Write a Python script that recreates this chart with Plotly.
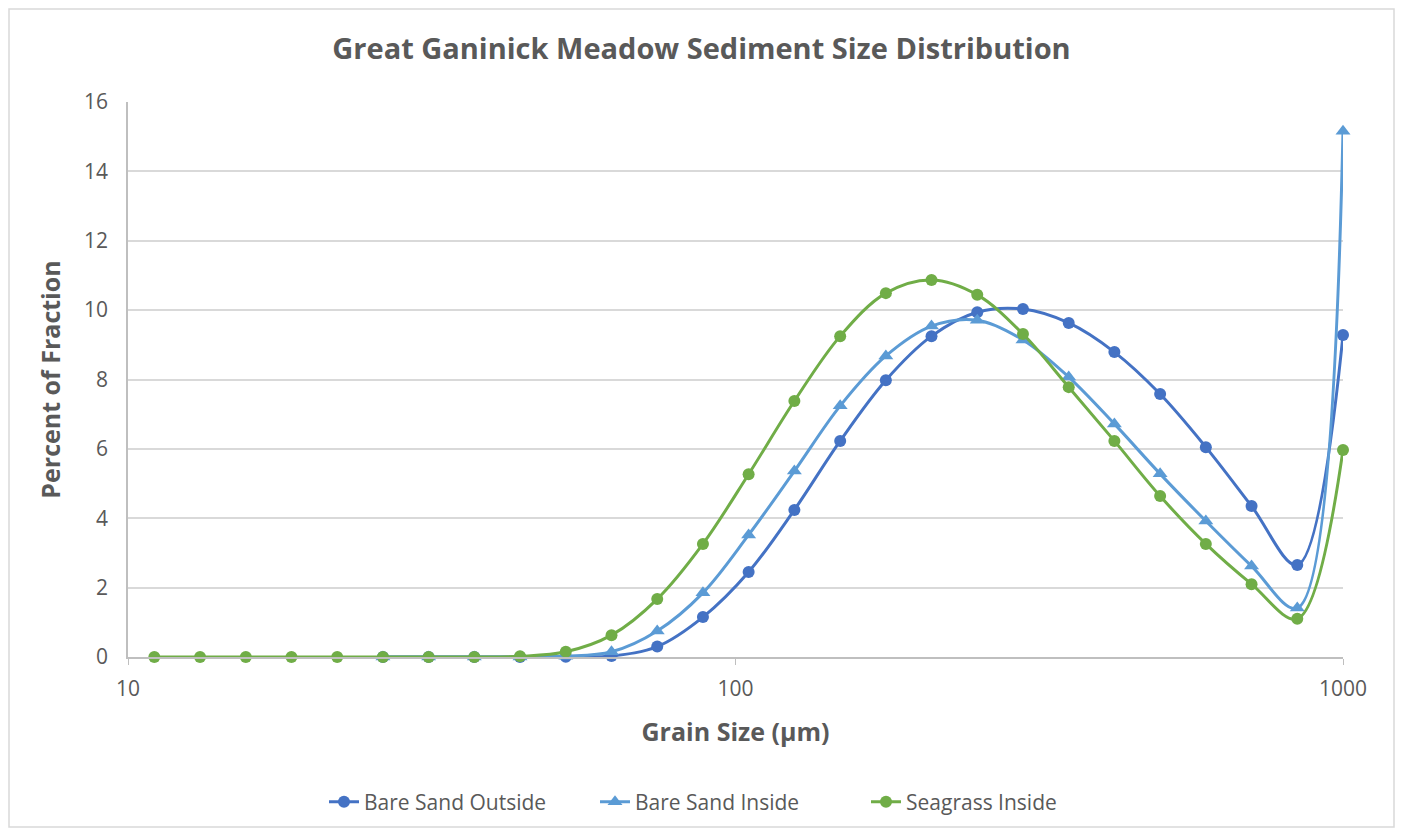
import plotly.graph_objects as go

# Grain size classes (µm), quarter-phi steps
grain_size = [11.05, 13.14, 15.63, 18.58, 22.10, 26.28, 31.25, 37.16, 44.19, 52.56,
              62.50, 74.33, 88.39, 105.1, 125.0, 148.7, 176.8, 210.2, 250.0, 297.3,
              353.6, 420.4, 500.0, 594.6, 707.1, 840.9, 1000.0]

# Values start at 26.28 µm for the bare sand series
bare_out_x = grain_size[5:]
bare_out = [0.0, 0.0, 0.0, 0.0, 0.01, 0.03, 0.30, 1.15, 2.45, 4.24, 6.23, 7.98, 9.25,
            9.94, 10.03, 9.63, 8.79, 7.58, 6.05, 4.35, 2.65, 9.28]

bare_in_x = grain_size[5:]
bare_in = [0.0, 0.0, 0.0, 0.0, 0.02, 0.15, 0.75, 1.85, 3.52, 5.36, 7.24, 8.68, 9.54,
           9.71, 9.14, 8.07, 6.72, 5.28, 3.92, 2.62, 1.41, 15.16]

seagrass_x = grain_size
seagrass = [0.0, 0.0, 0.0, 0.0, 0.0, 0.0, 0.0, 0.0, 0.02, 0.15, 0.63, 1.67, 3.26,
            5.27, 7.38, 9.25, 10.49, 10.87, 10.44, 9.31, 7.78, 6.23, 4.64, 3.26,
            2.10, 1.10, 5.97]

series_names = ["Bare Sand Outside", "Bare Sand Inside", "Seagrass Inside"]
colors = ["#4472C4", "#5B9BD5", "#70AD47"]
symbols = ["circle", "triangle-up", "circle"]

# page has an 8px body margin; figure sits at (8, 8)
OFF = 8
W, H = 1387, 820
ML, MR, MT, MB = 128 - OFF, 1387 - (1343 - OFF), 102 - OFF, 820 - (657 - OFF)
PW, PH = W - ML - MR, H - MT - MB

fig = go.Figure()
for name, xs, ys, c, s in zip(series_names, [bare_out_x, bare_in_x, seagrass_x],
                              [bare_out, bare_in, seagrass], colors, symbols):
    fig.add_trace(go.Scatter(
        x=xs, y=ys, name=name, mode="lines+markers", cliponaxis=False,
        line=dict(color=c, width=3, shape="spline", smoothing=1.0),
        marker=dict(color=c, symbol=s, size=12 if s == "circle" else 13),
    ))

font_main = "Open Sans, Calibri, Carlito, sans-serif"
grey = "#595959"


def px_x(p):
    return (p - OFF - ML) / PW


def px_y(p):
    return (H - MB - (p - OFF)) / PH


fig.update_layout(
    width=W, height=H,
    margin=dict(l=ML, r=MR, t=MT, b=MB, autoexpand=False),
    paper_bgcolor="white", plot_bgcolor="white",
    font=dict(family=font_main, color=grey, size=20),
    title=dict(text="<b>Great Ganinick Meadow Sediment Size Distribution</b>",
               x=0.5, xanchor="center", y=1 - (49 - OFF) / H, yanchor="middle",
               font=dict(size=29, color=grey, family=font_main)),
    legend=dict(orientation="h", xref="container", x=(324 - OFF) / W, xanchor="left",
                yref="container", y=1 - (802 - OFF) / H, yanchor="middle",
                font=dict(size=21, color=grey), entrywidth=226,
                traceorder="normal"),
    shapes=[dict(type="rect", xref="paper", yref="paper",
                 x0=px_x(9), x1=px_x(1394), y0=px_y(827), y1=px_y(9),
                 line=dict(color="#d9d9d9", width=1.5), layer="below")],
)

fig.update_xaxes(
    type="log", range=[1, 3], automargin=False,
    tickvals=[10, 100, 1000], ticktext=["10", "100", "1000"],
    showgrid=False, showline=True, linecolor="#bfbfbf", linewidth=1.5,
    ticks="outside", ticklen=6, tickcolor="#bfbfbf", ticklabelstandoff=6,
    tickfont=dict(size=21, color=grey),
    title=dict(text="<b>Grain Size (µm)</b>", font=dict(size=25, color=grey), standoff=23),
    zeroline=False,
)
fig.update_yaxes(
    range=[0, 16], dtick=2, automargin=False,
    showgrid=True, gridcolor="#d9d9d9", gridwidth=1.5,
    showline=True, linecolor="#bfbfbf", linewidth=1.5,
    tickfont=dict(size=21, color=grey), ticks="", ticklabelstandoff=14,
    title=dict(text="<b>Percent of Fraction</b>", font=dict(size=25, color=grey), standoff=16),
    zeroline=False,
)

fig.write_html("out.html")
